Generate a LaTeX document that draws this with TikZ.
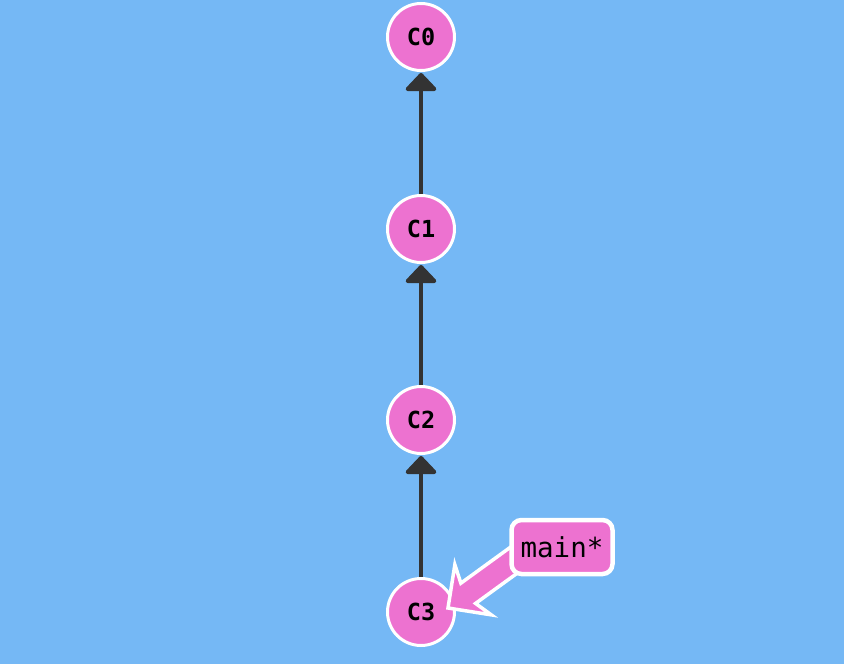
\documentclass[tikz,border=0pt]{standalone}
\usepackage{fontspec}
\setmonofont{DejaVu Sans Mono}
\usetikzlibrary{arrows.meta}
\definecolor{skyblue}{RGB}{117,184,245}
\definecolor{commitpink}{RGB}{237,114,208}
\definecolor{edgegray}{RGB}{51,51,51}
\tikzset{
	commit/.style={circle, fill=commitpink, draw=white, line width=3pt, minimum size=67pt, inner sep=0pt, font=\ttfamily\bfseries\fontsize{23.5}{26}\selectfont},
	parent/.style={draw=edgegray, line width=4pt, -{Triangle[width=35pt,length=19pt,round]}, shorten >=1pt},
	branchlabel/.style={rectangle, rounded corners=10pt, fill=commitpink, draw=white, line width=4.5pt, minimum width=101pt, minimum height=54pt, inner sep=0pt, font=\ttfamily\fontsize{27.5}{30}\selectfont},
	branchptr/.style={fill=commitpink, draw=white, line width=3.5pt}
}
\begin{document}
\begin{tikzpicture}[x=1pt,y=-1pt]
		\fill[skyblue] (0,0) rectangle (844,664);

		\node[commit] (C0) at (421,37) {C0};
		\node[commit] (C1) at (421,229) {C1};
		\node[commit] (C2) at (421,420) {C2};
		\node[commit] (C3) at (421,612) {C3};

		\draw[parent] (C1.north) -- (C0.south);
		\draw[parent] (C2.north) -- (C1.south);
		\draw[parent] (C3.north) -- (C2.south);

		% branch pointer
		\coordinate (mainpos) at (562,547);
		\coordinate (tip) at ([shift={(27,-4)}]C3.center);
		\begin{scope}[shift={(tip)}, rotate=36]
			\draw[branchptr] (0,0) -- (31,31) -- (25,12.5) -- (95,12.5) -- (95,-12.5) -- (25,-12.5) -- (31,-31) -- cycle;
		\end{scope}
		\node[branchlabel] (main) at (mainpos) {main*};
	\end{tikzpicture}
\end{document}
